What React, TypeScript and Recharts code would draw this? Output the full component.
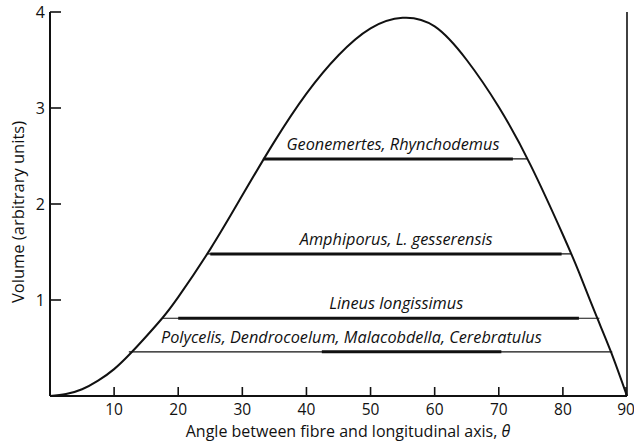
import { Line, LineChart, ReferenceDot, ReferenceLine, XAxis, YAxis } from 'recharts';

// angle between fibre and longitudinal axis (deg) and the enclosed volume
const angle = [0, 2.5, 5, 7.5, 10, 12.5, 15, 17.5, 20, 25, 30, 35, 40, 45, 50, 55, 60, 65, 70, 75, 80, 82.5, 85, 87.5, 90];
const volume = [0, 0.02, 0.07, 0.16, 0.28, 0.44, 0.62, 0.81, 1.03, 1.53, 2.09, 2.65, 3.15, 3.55, 3.83, 3.94, 3.85, 3.5, 3.01, 2.4, 1.68, 1.29, 0.87, 0.46, 0];

const xTicks = [10, 20, 30, 40, 50, 60, 70, 80, 90];
const yTicks = [1, 2, 3, 4];

// species: working volume, possible angle range, observed angle range
const species = [
  'Geonemertes, Rhynchodemus',
  'Amphiporus, L. gesserensis',
  'Lineus longissimus',
  'Polycelis, Dendrocoelum, Malacobdella, Cerebratulus',
];
const speciesVolume = [2.47, 1.48, 0.81, 0.46];
const rangeFrom = [33.2, 24.6, 17.6, 12.3];
const rangeTo = [74.5, 81.3, 85.7, 87.7];
const observedFrom = [33.3, 25, 20, 42.4];
const observedTo = [72.2, 79.8, 82.5, 70.4];
const labelAt = [53.5, 54, 54, 47];

const data = angle.map((a, i) => ({ a, v: volume[i] }));

const INK = '#111';
const FONT = '"Open Sans", sans-serif';

const XTick = ({ x, y, payload }: any) => (
  <g>
    <line x1={x} y1={y} x2={x} y2={y - 9} stroke={INK} strokeWidth={1.6} />
    <text x={x} y={y + 19} textAnchor="middle" fontSize={15.5} fontFamily={FONT} fill={INK}>
      {payload.value}
    </text>
  </g>
);

const YTick = ({ x, y, payload }: any) => (
  <g>
    <line x1={x} y1={y} x2={x + 11} y2={y} stroke={INK} strokeWidth={1.6} />
    <text x={x - 5} y={y + 6} textAnchor="end" fontSize={16} fontFamily={FONT} fill={INK}>
      {payload.value}
    </text>
  </g>
);

const SpeciesLabel = ({ viewBox, text }: any) => (
  <text
    x={viewBox.x}
    y={viewBox.y - 9}
    textAnchor="middle"
    fontSize={16.3}
    fontStyle="italic"
    fontFamily={FONT}
    fill={INK}
  >
    {text}
  </text>
);

export default function App() {
  return (
    <div style={{ position: 'absolute', left: 0, top: 0, background: '#fff' }}>
      <LineChart width={634} height={442} data={data} margin={{ top: 12, right: 7, bottom: 0, left: 0 }}>
        <XAxis
          type="number"
          dataKey="a"
          domain={[0, 90]}
          ticks={xTicks}
          tickSize={0}
          tickMargin={0}
          height={46}
          tick={<XTick />}
          axisLine={{ stroke: INK, strokeWidth: 2 }}
          tickLine={false}
        />
        <YAxis
          type="number"
          domain={[0, 4]}
          ticks={yTicks}
          width={50}
          tickSize={0}
          tickMargin={0}
          tick={<YTick />}
          axisLine={{ stroke: INK, strokeWidth: 2 }}
          tickLine={false}
        />
        <ReferenceLine x={90} stroke={INK} strokeWidth={1.6} />
        {species.map((s, i) => (
          <ReferenceLine
            key={`r${s}`}
            segment={[{ x: rangeFrom[i], y: speciesVolume[i] }, { x: rangeTo[i], y: speciesVolume[i] }]}
            stroke={INK}
            strokeWidth={1.2}
          />
        ))}
        {species.map((s, i) => (
          <ReferenceLine
            key={`o${s}`}
            segment={[{ x: observedFrom[i], y: speciesVolume[i] }, { x: observedTo[i], y: speciesVolume[i] }]}
            stroke={INK}
            strokeWidth={3}
          />
        ))}
        {species.map((s, i) => (
          <ReferenceDot
            key={`l${s}`}
            x={labelAt[i]}
            y={speciesVolume[i]}
            r={0}
            fill="none"
            stroke="none"
            label={<SpeciesLabel text={s} />}
          />
        ))}
        <Line
          type="natural"
          dataKey="v"
          stroke={INK}
          strokeWidth={2}
          dot={false}
          isAnimationActive={false}
        />
      </LineChart>
      <svg width={634} height={442} style={{ position: 'absolute', left: 0, top: 0, pointerEvents: 'none' }}>
        <text x={348} y={437} textAnchor="middle" fontSize={16} fontFamily={FONT} fill={INK}>
          Angle between fibre and longitudinal axis, <tspan fontStyle="italic">θ</tspan>
        </text>
        <text
          x={24}
          y={212}
          transform="rotate(-90 24 212)"
          textAnchor="middle"
          fontSize={16.5}
          fontFamily={FONT}
          fill={INK}
        >
          Volume (arbitrary units)
        </text>
      </svg>
    </div>
  );
}
